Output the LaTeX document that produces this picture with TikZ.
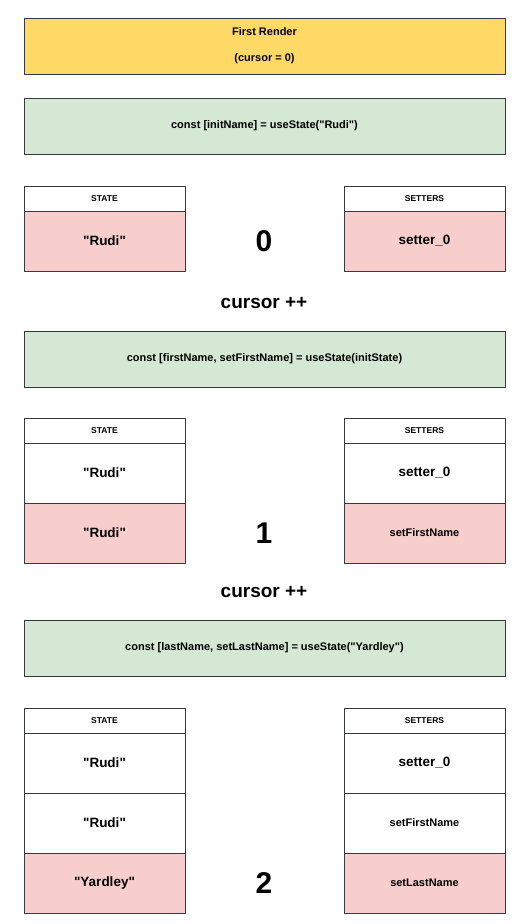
\documentclass[tikz,border=0pt]{standalone}
\usepackage{fontspec}
\setmainfont{Liberation Sans}[Ligatures=TeXOff]
\definecolor{edge}{HTML}{36393D}
\definecolor{render}{HTML}{FFD966}
\definecolor{hook}{HTML}{D5E8D4}
\definecolor{fresh}{HTML}{F8CECC}
\tikzset{
	box/.style={draw=edge,line width=1pt,inner sep=0pt,outer sep=0pt,anchor=north west,align=center,font=\fontsize{11}{13}\selectfont\bfseries},
	renderbox/.style={box,fill=render,minimum width=481pt,minimum height=56pt},
	hookbox/.style={box,fill=hook,minimum width=481pt,minimum height=56pt},
	headbox/.style={box,fill=white,minimum width=161pt,minimum height=25pt,font=\fontsize{8.5}{10}\selectfont\bfseries},
	cellbox/.style={box,fill=white,minimum width=161pt,minimum height=60pt,font=\fontsize{13.5}{16}\selectfont\bfseries},
	newcell/.style={cellbox,fill=fresh},
	smalltext/.style={font=\fontsize{11}{13}\selectfont\bfseries},
	cursorlabel/.style={font=\fontsize{19}{22}\selectfont\bfseries},
	countlabel/.style={font=\fontsize{30}{34}\selectfont\bfseries}
}
\begin{document}
\begin{tikzpicture}[x=1pt,y=-1pt]
	\useasboundingbox (0,0) rectangle (520,924);

	\node[renderbox] (firstrender) at (24,18) {First Render\\[13pt](cursor = 0)};
	\node[hookbox] (initname) at (24,98) {const [initName] = useState("Rudi")};

	\node[headbox] (statezero) at (24,186) {STATE};
	\node[newcell] (statezeroa) at (statezero.south west) {"Rudi"};
	\node[headbox] (setterzero) at (344,186) {SETTERS};
	\node[newcell] (setterzeroa) at (setterzero.south west) {setter\_0};
	\node[countlabel] (countzero) at (264,241) {0};

	\node[cursorlabel] (stepone) at (264,303) {cursor ++};
	\node[hookbox] (firstname) at (24,331) {const [firstName, setFirstName] = useState(initState)};

	\node[headbox] (stateone) at (24,418) {STATE};
	\node[cellbox] (stateonea) at (stateone.south west) {"Rudi"};
	\node[newcell] (stateoneb) at (stateonea.south west) {"Rudi"};
	\node[headbox] (setterone) at (344,418) {SETTERS};
	\node[cellbox] (setteronea) at (setterone.south west) {setter\_0};
	\node[newcell,smalltext] (setteroneb) at (setteronea.south west) {setFirstName};
	\node[countlabel] (countone) at (264,533) {1};

	\node[cursorlabel] (steptwo) at (264,592) {cursor ++};
	\node[hookbox] (lastname) at (24,620) {const [lastName, setLastName] = useState("Yardley")};

	\node[headbox] (statetwo) at (24,708) {STATE};
	\node[cellbox] (statetwoa) at (statetwo.south west) {"Rudi"};
	\node[cellbox] (statetwob) at (statetwoa.south west) {"Rudi"};
	\node[newcell] (statetwoc) at (statetwob.south west) {"Yardley"};
	\node[headbox] (settertwo) at (344,708) {SETTERS};
	\node[cellbox] (settertwoa) at (settertwo.south west) {setter\_0};
	\node[cellbox,smalltext] (settertwob) at (settertwoa.south west) {setFirstName};
	\node[newcell,smalltext] (settertwoc) at (settertwob.south west) {setLastName};
	\node[countlabel] (counttwo) at (264,883) {2};
\end{tikzpicture}
\end{document}
